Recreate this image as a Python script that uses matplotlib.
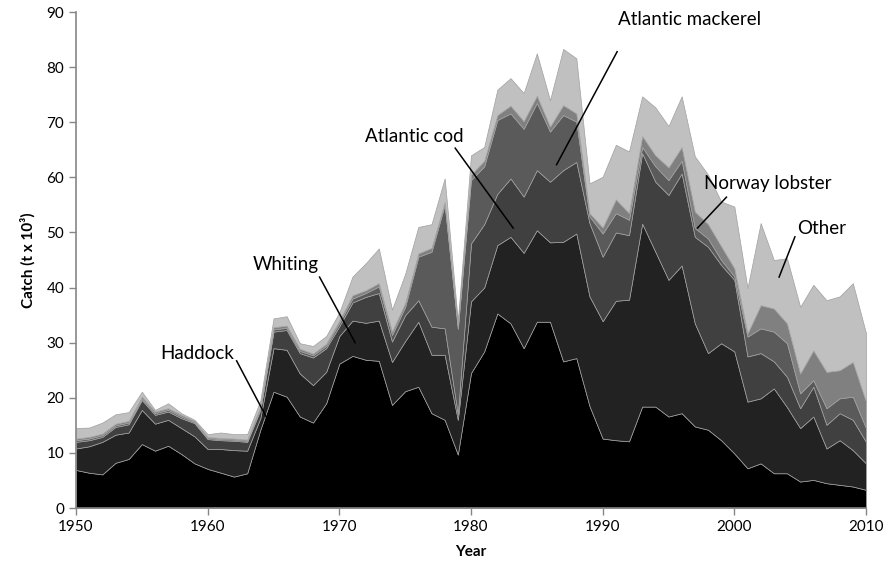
import matplotlib.pyplot as plt
import numpy as np

plt.rcParams['font.family'] = ['Lato', 'DejaVu Sans']

years = np.arange(1950, 2011)

# cumulative tops (t x 10^3)
haddock_top = [6.9, 6.4, 6.1, 8.2, 8.9, 11.6, 10.4, 11.3, 9.8, 8.1,
               7.1, 6.4, 5.7, 6.3, 14.2, 21.1, 20.2, 16.6, 15.5, 19.0,
               26.2, 27.6, 26.9, 26.7, 18.7, 21.2, 22.0, 17.2, 16.0, 9.7,
               24.5, 28.4, 35.3, 33.5, 29.0, 33.8, 33.8, 26.6, 27.2, 18.5,
               12.6, 12.3, 12.1, 18.4, 18.4, 16.6, 17.2, 14.8, 14.2, 12.3,
               9.9, 7.2, 8.1, 6.3, 6.3, 4.8, 5.1, 4.5, 4.2, 3.9, 3.3]
whiting_top = [10.8, 11.2, 12.0, 13.3, 13.7, 17.8, 15.3, 16.0, 14.5, 13.0,
               10.7, 10.7, 10.5, 10.4, 16.3, 29.0, 28.7, 24.4, 22.3, 24.7,
               31.2, 34.0, 33.6, 34.0, 26.5, 30.3, 33.8, 27.8, 27.8, 16.0,
               37.5, 40.0, 47.7, 49.2, 46.3, 50.4, 48.2, 48.3, 49.8, 38.4,
               33.9, 37.6, 37.8, 51.6, 46.5, 41.4, 44.0, 33.5, 28.1, 29.9,
               28.4, 19.3, 19.9, 21.7, 18.3, 14.5, 16.6, 10.8, 12.3, 10.5, 8.1]
cod_top = [12.0, 12.3, 12.9, 14.7, 15.2, 19.6, 16.9, 17.5, 16.3, 15.4,
           12.5, 12.3, 12.2, 12.0, 17.8, 32.0, 32.3, 28.1, 27.3, 29.0,
           33.0, 37.3, 38.3, 39.0, 30.2, 35.0, 37.7, 32.9, 32.6, 17.0,
           48.0, 51.5, 57.0, 59.8, 56.5, 61.3, 59.2, 61.3, 62.8, 51.7,
           45.6, 50.0, 49.5, 64.4, 59.2, 56.8, 60.7, 49.2, 47.4, 44.1,
           41.4, 27.5, 28.1, 26.6, 23.8, 18.1, 22.0, 15.1, 17.2, 16.0, 12.0]
mackerel_top = [12.3, 12.6, 13.2, 15.0, 15.5, 19.9, 17.2, 17.8, 16.6, 15.6,
                12.7, 12.5, 12.4, 12.2, 18.1, 32.4, 32.7, 28.5, 27.7, 29.4,
                33.6, 38.0, 39.0, 40.2, 31.4, 36.5, 45.6, 46.5, 55.0, 32.5,
                59.5, 62.0, 70.4, 71.6, 68.8, 73.5, 68.3, 71.3, 70.1, 52.9,
                49.8, 53.5, 52.3, 65.5, 62.0, 59.5, 63.0, 50.8, 48.9, 45.0,
                42.0, 31.1, 32.6, 32.0, 29.9, 20.8, 23.2, 18.1, 19.9, 20.2, 14.5]
lobster_top = [12.6, 12.9, 13.5, 15.3, 15.8, 20.2, 17.5, 18.1, 16.9, 15.8,
               12.9, 12.7, 12.6, 12.4, 18.4, 32.8, 33.1, 28.9, 28.0, 29.8,
               34.0, 38.6, 39.5, 40.8, 32.0, 37.2, 46.2, 47.2, 55.5, 33.0,
               60.5, 63.0, 71.3, 73.0, 70.2, 74.8, 69.2, 73.1, 71.6, 53.5,
               50.9, 56.0, 53.5, 67.5, 64.0, 61.8, 65.5, 53.8, 51.5, 47.5,
               43.5, 31.7, 36.8, 36.2, 33.5, 24.4, 28.6, 24.7, 25.0, 26.5, 19.3]
total_top = [14.5, 14.6, 15.5, 17.0, 17.4, 21.1, 17.8, 19.0, 17.2, 16.0,
             13.4, 13.7, 13.4, 13.4, 19.5, 34.4, 34.8, 29.9, 29.4, 31.2,
             35.5, 42.0, 44.4, 47.1, 36.0, 42.5, 51.0, 51.5, 59.8, 34.0,
             64.0, 65.5, 75.9, 78.0, 75.3, 82.5, 74.0, 83.3, 81.6, 58.9,
             60.1, 65.9, 64.7, 74.7, 72.7, 69.3, 74.7, 63.8, 60.5, 55.6,
             54.7, 39.9, 51.7, 45.0, 45.3, 36.5, 40.5, 37.7, 38.4, 40.8, 31.7]

species = ["Haddock", "Whiting", "Atlantic cod", "Atlantic mackerel",
           "Norway lobster", "Other"]
colors = ["#000000", "#222222", "#404040", "#5a5a5a", "#808080", "#c0c0c0"]

tops = np.array([haddock_top, whiting_top, cod_top, mackerel_top,
                 lobster_top, total_top])
layers = np.diff(np.vstack([np.zeros(len(years)), tops]), axis=0)

fig = plt.figure(figsize=(8.86, 5.71), dpi=100)
ax = fig.add_axes([76 / 886, 63 / 571, 790 / 886, 496 / 571])

ax.stackplot(years, layers, colors=colors, labels=species,
             edgecolor="#a0a0a0", linewidth=0.5)

ax.set_xlim(1950, 2010)
ax.set_ylim(0, 90)
ax.set_xticks(range(1950, 2011, 10))
ax.set_yticks(range(0, 91, 10))

for s in ["top", "right"]:
    ax.spines[s].set_visible(False)
for s in ["left", "bottom"]:
    ax.spines[s].set_color("#868686")
    ax.spines[s].set_linewidth(1.2)
ax.tick_params(direction="out", length=5, color="#868686", labelsize=11,
               width=1)
ax.set_xlabel("Year", fontsize=11, fontweight="bold", labelpad=8)
ax.set_ylabel("Catch (t x 10³)", fontsize=11, fontweight="bold", labelpad=8)

# labels with leader lines
notes = [
    ("Haddock", (1964.5, 16.3), (1962.2, 26.7), (1959.2, 28.1)),
    ("Whiting", (1971.2, 30.0), (1968.5, 41.9), (1965.9, 44.2)),
    ("Atlantic cod", (1983.2, 50.8), (1978.8, 65.3), (1975.7, 67.5)),
    ("Atlantic mackerel", (1986.5, 62.3), (1991.1, 82.8), (1996.6, 88.6)),
    ("Norway lobster", (1997.2, 50.8), (1999.4, 56.4), (2002.5, 58.8)),
    ("Other", (2003.4, 41.9), (2004.6, 49.2), (2006.6, 50.8)),
]
for name, tip, start, txt in notes:
    ax.plot([tip[0], start[0]], [tip[1], start[1]], color="black", lw=1.1,
            clip_on=False)
    ax.text(txt[0], txt[1], name, fontsize=13.5, ha="center", va="center")

fig.savefig("out.png", dpi=100)
